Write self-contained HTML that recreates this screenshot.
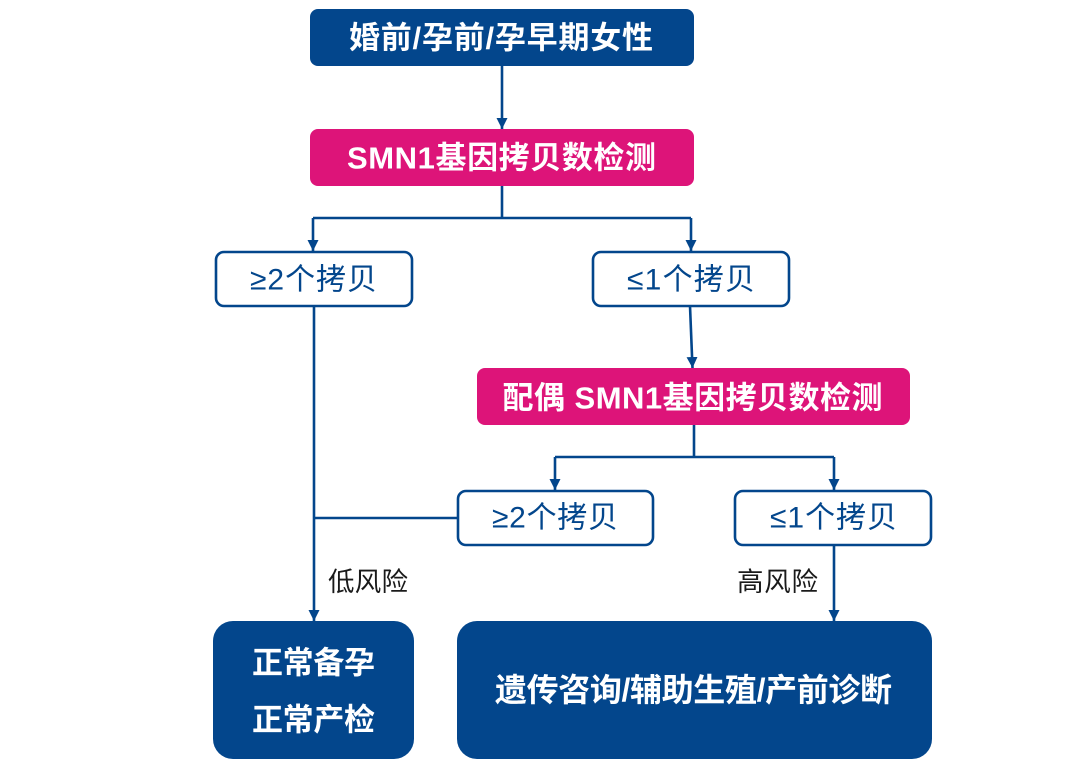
<!DOCTYPE html>
<html>
<head>
<meta charset="utf-8">
<style>
  html,body{margin:0;padding:0;background:#fff;}
  body{width:1080px;height:767px;overflow:hidden;}
  svg{display:block;}
  .cjk{font-family:"Liberation Sans","Noto Sans CJK SC","WenQuanYi Zen Hei",sans-serif;}
</style>
</head>
<body>
<svg width="1080" height="767" viewBox="0 0 1080 767" xmlns="http://www.w3.org/2000/svg" class="cjk">
  <defs>
    <marker id="ah" viewBox="0 0 10 10" refX="10" refY="5" markerWidth="11" markerHeight="11" markerUnits="userSpaceOnUse" orient="auto">
      <path d="M0,0 L10,5 L0,10 z" fill="#03468c"/>
    </marker>
  </defs>

  <!-- connectors -->
  <g stroke="#03468c" stroke-width="2.6" fill="none">
    <line x1="502" y1="66" x2="502" y2="129" marker-end="url(#ah)"/>
    <polyline points="502,186 502,218"/>
    <polyline points="313,218 691,218"/>
    <line x1="313" y1="218" x2="313" y2="251" marker-end="url(#ah)"/>
    <line x1="691" y1="218" x2="691" y2="251" marker-end="url(#ah)"/>
    <line x1="314" y1="306" x2="314" y2="621" marker-end="url(#ah)"/>
    <line x1="690" y1="306" x2="692.5" y2="368" marker-end="url(#ah)"/>
    <polyline points="694,425 694,457"/>
    <polyline points="555,457 834,457"/>
    <line x1="555" y1="457" x2="555" y2="490" marker-end="url(#ah)"/>
    <line x1="834" y1="457" x2="834" y2="490" marker-end="url(#ah)"/>
    <polyline points="314,518 457,518"/>
    <line x1="834" y1="545" x2="834" y2="621" marker-end="url(#ah)"/>
  </g>

  <!-- top box -->
  <rect x="310" y="9" width="384" height="57" rx="8" fill="#03468c"/>
  <text x="501" y="38" text-anchor="middle" dominant-baseline="central" font-size="31" font-weight="bold" fill="#fff" textLength="304" lengthAdjust="spacing">婚前/孕前/孕早期女性</text>

  <!-- SMN1 box -->
  <rect x="310" y="129" width="384" height="57" rx="8" fill="#dd1479"/>
  <text x="501.5" y="158" text-anchor="middle" dominant-baseline="central" font-size="31" font-weight="bold" fill="#fff" textLength="309" lengthAdjust="spacing">SMN1基因拷贝数检测</text>

  <!-- level 2 outline boxes -->
  <rect x="216" y="252" width="196" height="54" rx="8" fill="#fff" stroke="#03468c" stroke-width="2.6"/>
  <text x="313.5" y="280" text-anchor="middle" dominant-baseline="central" font-size="30" fill="#03468c" textLength="127" lengthAdjust="spacing">≥2个拷贝</text>

  <rect x="593" y="252" width="196" height="54" rx="8" fill="#fff" stroke="#03468c" stroke-width="2.6"/>
  <text x="691" y="280" text-anchor="middle" dominant-baseline="central" font-size="30" fill="#03468c" textLength="128" lengthAdjust="spacing">≤1个拷贝</text>

  <!-- spouse box -->
  <rect x="477" y="368" width="433" height="57" rx="8" fill="#dd1479"/>
  <text x="692.5" y="398" text-anchor="middle" dominant-baseline="central" font-size="31" font-weight="bold" fill="#fff" textLength="380" lengthAdjust="spacing">配偶 SMN1基因拷贝数检测</text>

  <!-- level 3 outline boxes -->
  <rect x="458" y="491" width="195" height="54" rx="8" fill="#fff" stroke="#03468c" stroke-width="2.6"/>
  <text x="555" y="518" text-anchor="middle" dominant-baseline="central" font-size="30" fill="#03468c" textLength="126" lengthAdjust="spacing">≥2个拷贝</text>

  <rect x="735" y="491" width="196" height="54" rx="8" fill="#fff" stroke="#03468c" stroke-width="2.6"/>
  <text x="833.5" y="518" text-anchor="middle" dominant-baseline="central" font-size="30" fill="#03468c" textLength="127" lengthAdjust="spacing">≤1个拷贝</text>

  <!-- risk labels -->
  <text x="368" y="582" text-anchor="middle" dominant-baseline="central" font-size="26.5" fill="#1a1a1a" textLength="80" lengthAdjust="spacing">低风险</text>
  <text x="777.5" y="582" text-anchor="middle" dominant-baseline="central" font-size="26.5" fill="#1a1a1a" textLength="81" lengthAdjust="spacing">高风险</text>

  <!-- bottom boxes -->
  <rect x="213" y="621" width="201" height="138" rx="20" fill="#03468c"/>
  <text x="313.5" y="663" text-anchor="middle" dominant-baseline="central" font-size="31" font-weight="bold" fill="#fff" textLength="123" lengthAdjust="spacing">正常备孕</text>
  <text x="313.5" y="720" text-anchor="middle" dominant-baseline="central" font-size="31" font-weight="bold" fill="#fff" textLength="123" lengthAdjust="spacing">正常产检</text>

  <rect x="457" y="621" width="475" height="138" rx="20" fill="#03468c"/>
  <text x="693.5" y="690" text-anchor="middle" dominant-baseline="central" font-size="32" font-weight="bold" fill="#fff" textLength="397" lengthAdjust="spacing">遗传咨询/辅助生殖/产前诊断</text>
</svg>
</body>
</html>
